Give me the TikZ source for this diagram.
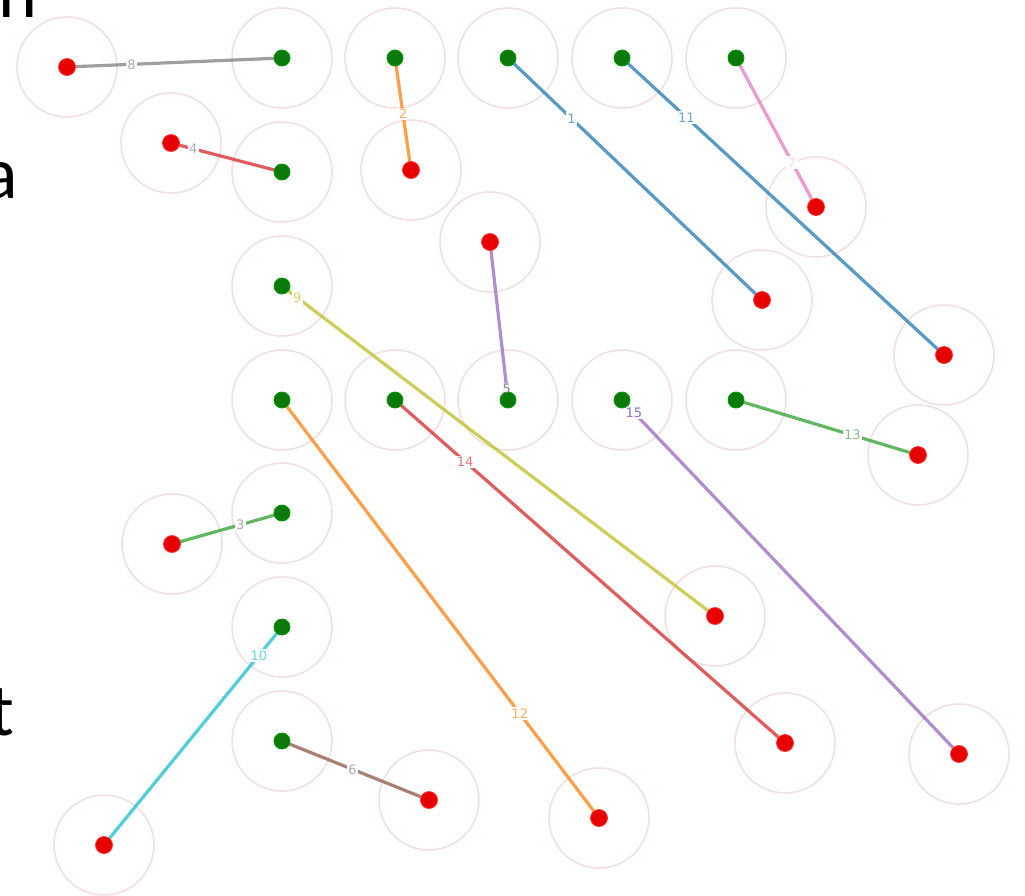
\documentclass[tikz,border=0pt]{standalone}
\usepackage{fontspec}
\setmainfont{DejaVu Sans}
\newfontfamily\bigfont{Carlito}
\definecolor{tabblue}{HTML}{1F77B4}
\definecolor{taborange}{HTML}{FF7F0E}
\definecolor{tabgreen}{HTML}{2CA02C}
\definecolor{tabred}{HTML}{D62728}
\definecolor{tabpurple}{HTML}{9467BD}
\definecolor{tabbrown}{HTML}{8C564B}
\definecolor{tabpink}{HTML}{E377C2}
\definecolor{tabgray}{HTML}{7F7F7F}
\definecolor{tabolive}{HTML}{BCBD22}
\definecolor{tabcyan}{HTML}{17BECF}
\definecolor{ringc}{HTML}{F0E0E0}
\definecolor{gfill}{HTML}{0B7A0B}
\definecolor{rfill}{HTML}{E60000}
\begin{document}
\begin{tikzpicture}[x=1pt,y=-1pt,
  ring/.style={draw=ringc, line width=1.6pt},
  link/.style={line width=3.2pt, draw opacity=0.75},
  lab/.style={fill=white, inner sep=1.5pt, font=\fontsize{13}{13}\selectfont, text opacity=0.65},
  gdot/.style={circle, fill=gfill, draw=green!60!black, line width=0.8pt, minimum size=16pt, inner sep=0},
  rdot/.style={circle, fill=rfill, draw=red!80!white, line width=0.8pt, minimum size=17pt, inner sep=0},
  big/.style={inner sep=0, font=\bigfont\fontsize{74}{74}\selectfont}]
\useasboundingbox (0,0) rectangle (1025,895);
% partial letters at the left edge
\node[big, anchor=base west] (ln) at (-2,17) {n};
\node[big, anchor=base east] (la) at (18,198) {a};
\node[big, anchor=base east] (lt) at (14,735) {t};
% points
\coordinate (g1) at (508,58);  \coordinate (r1) at (762,300);
\coordinate (g2) at (395,58);  \coordinate (r2) at (411,170);
\coordinate (g3) at (282,513); \coordinate (r3) at (172,544);
\coordinate (g4) at (282,172); \coordinate (r4) at (171,143);
\coordinate (g5) at (508,400); \coordinate (r5) at (490,242);
\coordinate (g6) at (282,741); \coordinate (r6) at (429,800);
\coordinate (g7) at (736,58);  \coordinate (r7) at (816,207);
\coordinate (g8) at (282,58);  \coordinate (r8) at (67,67);
\coordinate (g9) at (282,286); \coordinate (r9) at (715,616);
\coordinate (g10) at (282,627); \coordinate (r10) at (104,845);
\coordinate (g11) at (622,58);  \coordinate (r11) at (944,355);
\coordinate (g12) at (282,400); \coordinate (r12) at (599,818);
\coordinate (g13) at (736,400); \coordinate (r13) at (918,455);
\coordinate (g14) at (395,400); \coordinate (r14) at (785,743);
\coordinate (g15) at (622,400); \coordinate (r15) at (959,754);
% rings
\foreach \i in {1,...,15} {
  \draw[ring] (g\i) circle[radius=50pt];
  \draw[ring] (r\i) circle[radius=50pt];
}
% links
\draw[link, tabblue]   (g1) -- node[lab, pos=0.25, text=tabblue] (l1) {1} (r1);
\draw[link, taborange] (g2) -- node[lab, pos=0.5, text=taborange] (l2) {2} (r2);
\draw[link, tabgreen]  (g3) -- node[lab, pos=0.38, text=tabgray] (l3) {3} (r3);
\draw[link, tabred]    (g4) -- node[lab, pos=0.8, text=tabgray] (l4) {4} (r4);
\draw[link, tabpurple] (g5) -- node[lab, pos=0.07, text=tabgray] (l5) {5} (r5);
\draw[link, tabbrown]  (g6) -- node[lab, pos=0.48, text=tabgray] (l6) {6} (r6);
\draw[link, tabpink]   (g7) -- node[lab, pos=0.7, text=tabpink!40] (l7) {7} (r7);
\draw[link, tabgray]   (g8) -- node[lab, pos=0.7, text=tabgray] (l8) {8} (r8);
\draw[link, tabolive]  (g9) -- node[lab, pos=0.035, text=tabolive] (l9) {9} (r9);
\draw[link, tabcyan]   (g10) -- node[lab, pos=0.13, text=tabcyan] (l10) {10} (r10);
\draw[link, tabblue]   (g11) -- node[lab, pos=0.2, text=tabblue] (l11) {11} (r11);
\draw[link, taborange] (g12) -- node[lab, pos=0.75, text=taborange] (l12) {12} (r12);
\draw[link, tabgreen]  (g13) -- node[lab, pos=0.64, text=tabgreen!60!gray] (l13) {13} (r13);
\draw[link, tabred]    (g14) -- node[lab, pos=0.18, text=tabred] (l14) {14} (r14);
\draw[link, tabpurple] (g15) -- node[lab, pos=0.035, text=tabpurple] (l15) {15} (r15);
% dots
\foreach \i in {1,...,15} {
  \node[gdot] (gd\i) at (g\i) {};
  \node[rdot] (rd\i) at (r\i) {};
}
% labels on top of dots where they overlap
\node[lab, text=tabgray, fill=none] (l5b) at (l5) {5};
\node[lab, text=tabpurple, fill=none] (l15b) at (l15) {15};
\end{tikzpicture}
\end{document}
